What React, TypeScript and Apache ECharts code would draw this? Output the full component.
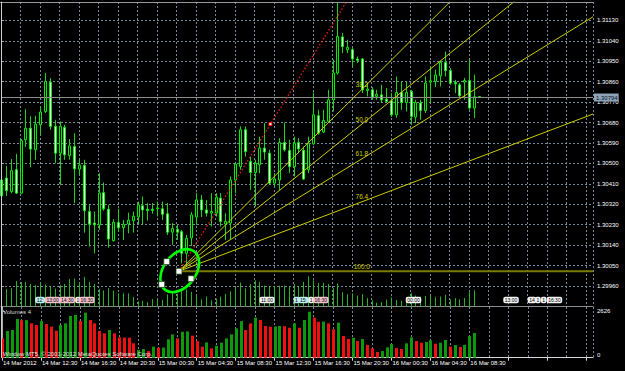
import React, { useEffect, useRef } from "react";
import * as echarts from "echarts";

// ---- data (EURUSD-like M30 chart) ----
const timeAxisLabels = [
  "14 Mar 2012", "14 Mar 12:30", "14 Mar 16:30", "14 Mar 20:30", "15 Mar 00:30",
  "15 Mar 04:30", "15 Mar 08:30", "15 Mar 12:30", "15 Mar 16:30", "15 Mar 20:30",
  "16 Mar 00:30", "16 Mar 04:30", "16 Mar 08:30",
];

const opens = [
  1.30357, 1.30435, 1.30376, 1.30472, 1.30369, 1.30604, 1.30655, 1.30560, 1.30670, 1.30729,
  1.30858, 1.30663, 1.30545, 1.30658, 1.30535, 1.30574, 1.30475, 1.30491, 1.30288, 1.30237,
  1.30229, 1.30371, 1.30298, 1.30160, 1.30239, 1.30217, 1.30233, 1.30247, 1.30264, 1.30313,
  1.30298, 1.30298, 1.30300, 1.30300, 1.30278, 1.30197, 1.30210, 1.30199, 1.30104, 1.30172,
  1.30264, 1.30339, 1.30295, 1.30281, 1.30281, 1.30347, 1.30233, 1.30237, 1.30427, 1.30486,
  1.30648, 1.30508, 1.30460, 1.30494, 1.30567, 1.30545, 1.30413, 1.30427, 1.30592, 1.30557,
  1.30486, 1.30592, 1.30557, 1.30472, 1.30586, 1.30710, 1.30638, 1.30685, 1.30780, 1.30898,
  1.31057, 1.31001, 1.31001, 1.30960, 1.30960, 1.30821, 1.30824, 1.30795, 1.30802, 1.30783,
  1.30776, 1.30714, 1.30812, 1.30768, 1.30817, 1.30704, 1.30766, 1.30733, 1.30858, 1.30861,
  1.30886, 1.30945, 1.30909, 1.30857, 1.30846, 1.30858, 1.30865, 1.30744, 1.30794,
];
const highs = [
  1.30449, 1.30489, 1.30519, 1.30542, 1.30607, 1.30739, 1.30707, 1.30710, 1.30751, 1.30898,
  1.30876, 1.30692, 1.30685, 1.30670, 1.30607, 1.30633, 1.30516, 1.30516, 1.30317, 1.30288,
  1.30457, 1.30416, 1.30317, 1.30254, 1.30300, 1.30251, 1.30283, 1.30288, 1.30332, 1.30354,
  1.30325, 1.30325, 1.30332, 1.30332, 1.30325, 1.30237, 1.30228, 1.30207, 1.30185, 1.30286,
  1.30370, 1.30361, 1.30339, 1.30369, 1.30369, 1.30369, 1.30281, 1.30442, 1.30501, 1.30663,
  1.30663, 1.30530, 1.30516, 1.30618, 1.30678, 1.30560, 1.30457, 1.30611, 1.30680, 1.30604,
  1.30618, 1.30611, 1.30574, 1.30618, 1.30812, 1.30736, 1.30736, 1.30824, 1.30957, 1.31207,
  1.31074, 1.31045, 1.31008, 1.30971, 1.30964, 1.30854, 1.30836, 1.30824, 1.30846, 1.30832,
  1.30810, 1.30883, 1.30861, 1.30861, 1.30824, 1.30780, 1.30780, 1.30883, 1.30927, 1.30913,
  1.30952, 1.30993, 1.30920, 1.30868, 1.30854, 1.30876, 1.30957, 1.30891, 1.30796,
];
const lows = [
  1.30339, 1.30357, 1.30369, 1.30366, 1.30366, 1.30573, 1.30483, 1.30516, 1.30626, 1.30722,
  1.30648, 1.30501, 1.30405, 1.30516, 1.30516, 1.30325, 1.30449, 1.30195, 1.30133, 1.30104,
  1.30207, 1.30292, 1.30129, 1.30155, 1.30199, 1.30163, 1.30192, 1.30195, 1.30233, 1.30229,
  1.30248, 1.30278, 1.30266, 1.30251, 1.30185, 1.30141, 1.30163, 1.30060, 1.30045, 1.30136,
  1.30229, 1.30264, 1.30266, 1.30222, 1.30266, 1.30222, 1.30163, 1.30163, 1.30369, 1.30472,
  1.30530, 1.30383, 1.30310, 1.30457, 1.30516, 1.30405, 1.30398, 1.30383, 1.30552, 1.30457,
  1.30442, 1.30545, 1.30427, 1.30457, 1.30582, 1.30626, 1.30633, 1.30680, 1.30729, 1.30891,
  1.30986, 1.30986, 1.30927, 1.30942, 1.30810, 1.30795, 1.30780, 1.30780, 1.30766, 1.30766,
  1.30705, 1.30701, 1.30736, 1.30729, 1.30670, 1.30678, 1.30692, 1.30722, 1.30766, 1.30836,
  1.30839, 1.30883, 1.30846, 1.30810, 1.30788, 1.30780, 1.30736, 1.30700, 1.30790,
];
const closes = [
  1.30427, 1.30380, 1.30468, 1.30369, 1.30601, 1.30655, 1.30563, 1.30673, 1.30726, 1.30861,
  1.30663, 1.30545, 1.30663, 1.30538, 1.30577, 1.30476, 1.30492, 1.30292, 1.30232, 1.30230,
  1.30369, 1.30300, 1.30167, 1.30241, 1.30217, 1.30232, 1.30250, 1.30267, 1.30317, 1.30295,
  1.30292, 1.30293, 1.30304, 1.30276, 1.30197, 1.30213, 1.30197, 1.30104, 1.30170, 1.30273,
  1.30339, 1.30295, 1.30281, 1.30288, 1.30351, 1.30244, 1.30244, 1.30427, 1.30497, 1.30648,
  1.30552, 1.30460, 1.30501, 1.30567, 1.30550, 1.30413, 1.30431, 1.30592, 1.30560, 1.30486,
  1.30589, 1.30564, 1.30431, 1.30589, 1.30714, 1.30633, 1.30689, 1.30780, 1.30898, 1.31059,
  1.31015, 1.31011, 1.30960, 1.30954, 1.30824, 1.30827, 1.30792, 1.30805, 1.30780, 1.30773,
  1.30714, 1.30812, 1.30768, 1.30812, 1.30707, 1.30768, 1.30733, 1.30854, 1.30864, 1.30889,
  1.30945, 1.30909, 1.30854, 1.30851, 1.30798, 1.30865, 1.30744, 1.30794, 1.30794,
];
const volumes = [
  1100, 1520, 1580, 2210, 2140, 2150, 1960, 1865, 2090, 1920,
  1770, 1540, 1865, 1960, 2380, 2440, 2090, 2570, 2150, 1960,
  1520, 1390, 1580, 1390, 1160, 1150, 1140, 820, 440, 495,
  380, 630, 570, 580, 1050, 1330, 1100, 1480, 1500, 1260,
  950, 630, 875, 530, 685, 855, 1100, 1330, 1675, 2090,
  1580, 1960, 2285, 2150, 1810, 1770, 1780, 1810, 1800, 1710,
  1960, 1710, 2150, 2626, 2285, 2055, 2060, 1960, 1620, 2000,
  1240, 1065, 1140, 950, 1065, 725, 535, 325, 380, 590,
  780, 550, 495, 820, 1160, 950, 855, 895, 990, 800,
  855, 1010, 630, 725, 610, 730, 1240, 1410, 4,
];
// 1 = green (volume rising), 0 = red, as coloured in the Volumes window
const volumeRising = [
  0, 1, 1, 1, 0, 1, 0, 0, 1, 0,
  0, 0, 1, 1, 1, 1, 0, 1, 0, 0,
  0, 0, 1, 0, 0, 0, 0, 0, 1, 1,
  0, 1, 0, 1, 1, 1, 0, 1, 1, 0,
  0, 0, 1, 0, 1, 1, 1, 1, 1, 1,
  0, 0, 1, 0, 0, 0, 1, 1, 0, 0,
  1, 0, 1, 1, 0, 0, 1, 0, 0, 1,
  0, 0, 1, 0, 1, 0, 0, 0, 1, 1,
  1, 0, 0, 1, 1, 0, 0, 1, 1, 0,
  1, 1, 0, 1, 0, 1, 1, 1, 0,
];

const bidPrice = 1.30794;

// Fibonacci fan: [bar index, price]
const fanStart = [36.5, 1.30025];
const fanEnd = [74, 1.31321];
const fanLevels = [0.382, 0.5, 0.618, 0.764, 1.0];
const fanLevelTexts = ["38.2", "50.0", "61.8", "76.4", "100.0"];

// Ellipse object: major-axis end points [bar, price] and axis ratio
const ellipseEnds = [[33.68, 1.29943], [39.63, 1.30112]];
const ellipseRatio = 0.67;
const ellipseHandles = [[33.99, 1.30067], [38.97, 1.29992], [32.96, 1.29967]];

// vertical-line event labels along the bottom of the price window
const eventBars = [7, 9, 12, 15.2, 16, 53, 60, 61, 63, 64, 83, 103, 108, 109.5, 110.7, 111.9];
const eventTexts = ["12:", "13:00", "14:30", "1", "16:30", "11:00", "1", "15:", "1", "16:30", "00:00", "13:00", "14", "1", "1", "16:30"];
const eventKinds = ["c", "p", "p", "w", "p", "w", "c", "c", "w", "p", "w", "w", "w", "w", "w", "w"];

const FONT = "'Liberation Sans', Arial, sans-serif";
const GRID_COLOR = "#778899";
const X_MAX = 121.4;

export default function App() {
  const ref = useRef<HTMLDivElement>(null);

  useEffect(() => {
    const chart = echarts.init(ref.current!, null, { renderer: "svg" });
    const candleData = opens.map((o, i) => [i, o, closes[i], lows[i], highs[i]]);
    const volData = volumes.map((v, i) => [i, v, volumeRising[i]]);
    const maxVol = Math.max(...volumes);

    const gridLine = { show: true, lineStyle: { color: GRID_COLOR, type: [2, 2], width: 1 } };
    const kindColor: Record<string, string> = { c: "#bdeff2", p: "#f5c3cd", w: "#f2f2f2" };

    const option: any = {
      animation: false,
      backgroundColor: "#000000",
      textStyle: { fontFamily: FONT },
      grid: [
        { left: 1, top: 2, width: 592, height: 304.4 },
        { left: 1, top: 307, width: 592, height: 50.7 },
      ],
      xAxis: [
        {
          gridIndex: 0, type: "value", min: 0, max: X_MAX, interval: 4,
          axisLabel: { show: false }, axisTick: { show: false },
          axisLine: { show: true, onZero: false, lineStyle: { color: "#8c8c8c" } },
          splitLine: gridLine,
        },
        {
          gridIndex: 1, type: "value", position: "top", min: 0, max: X_MAX, interval: 4,
          axisLabel: { show: false }, axisTick: { show: false }, axisLine: { show: false },
          splitLine: gridLine,
        },
        {
          gridIndex: 1, type: "value", position: "bottom", min: 0, max: X_MAX, interval: 8,
          axisLine: { show: true, onZero: false, lineStyle: { color: "#d8d8d8" } },
          axisTick: { show: true, length: 3, lineStyle: { color: "#d8d8d8" } },
          splitLine: { show: false },
          axisLabel: {
            show: true, color: "#ffffff", fontSize: 6, fontFamily: FONT, align: "left",
            margin: 2, padding: [0, 0, 0, 1], showMinLabel: true, showMaxLabel: false,
            formatter: (v: number) => {
              const k = Math.round(v / 8);
              return Math.abs(v - k * 8) < 1e-6 && k < timeAxisLabels.length ? timeAxisLabels[k] : "";
            },
          },
        },
      ],
      yAxis: [
        {
          gridIndex: 0, type: "value", position: "right", min: 1.2987, max: 1.31211, interval: 0.0009,
          axisLine: { show: true, lineStyle: { color: "#a8a8a8" } },
          axisTick: { show: true, length: 3, lineStyle: { color: "#a8a8a8" } },
          axisLabel: {
            color: "#ffffff", fontSize: 6, fontFamily: FONT, margin: 4,
            showMinLabel: false, showMaxLabel: false,
            formatter: (v: number) => v.toFixed(5),
          },
          splitLine: gridLine,
        },
        { gridIndex: 0, type: "value", min: 0, max: 26650, show: false },
        {
          gridIndex: 1, type: "value", position: "right", min: 0, max: 2894, interval: maxVol,
          axisLine: { show: true, lineStyle: { color: "#a8a8a8" } },
          axisTick: { show: true, length: 3, lineStyle: { color: "#a8a8a8" } },
          splitLine: { show: false },
          axisLabel: {
            color: "#ffffff", fontSize: 6, fontFamily: FONT, margin: 4,
            showMinLabel: true, showMaxLabel: false,
            formatter: (v: number) => (v === 0 ? "{lo|0}" : "{hi|" + v + "}"),
            rich: {
              lo: { color: "#ffffff", fontSize: 6, fontFamily: FONT, padding: [0, 0, 6, 0] },
              hi: { color: "#ffffff", fontSize: 6, fontFamily: FONT, padding: [0, 0, 2, 0] },
            },
          },
        },
      ],
      series: [
        {
          type: "custom", name: "tick volumes", xAxisIndex: 0, yAxisIndex: 1, z: 1, clip: false,
          data: volData,
          renderItem: (params: any, api: any) => {
            const i = api.value(0);
            const top = api.coord([i, api.value(1)]);
            const base = api.coord([i, 0]);
            const x = Math.round(top[0]) + 0.5;
            return {
              type: "line",
              shape: { x1: x, y1: top[1], x2: x, y2: base[1] },
              style: { stroke: "#27b327", lineWidth: 1 },
            };
          },
        },
        {
          type: "custom", name: "candles", xAxisIndex: 0, yAxisIndex: 0, z: 2, clip: false,
          data: candleData,
          renderItem: (params: any, api: any) => {
            const i = api.value(0);
            const o = api.value(1), c = api.value(2), l = api.value(3), h = api.value(4);
            const pO = api.coord([i, o]), pC = api.coord([i, c]);
            const pL = api.coord([i, l]), pH = api.coord([i, h]);
            const xc = Math.round(pO[0]);
            const top = Math.min(pO[1], pC[1]);
            const bot = Math.max(pO[1], pC[1]);
            const bull = c > o;
            return {
              type: "group",
              children: [
                {
                  type: "line",
                  shape: { x1: xc + 0.5, y1: pH[1], x2: xc + 0.5, y2: pL[1] },
                  style: { stroke: "#1ed21e", lineWidth: 1 },
                },
                {
                  type: "rect",
                  shape: { x: xc - 0.5, y: top, width: 2, height: Math.max(bot - top, 0.3) },
                  style: { fill: bull ? "#000000" : "#ffffff", stroke: "#00f000", lineWidth: 1 },
                },
              ],
            };
          },
        },
        {
          type: "custom", name: "Volumes", xAxisIndex: 2, yAxisIndex: 2, z: 2, clip: false,
          data: volData,
          renderItem: (params: any, api: any) => {
            const i = api.value(0);
            const top = api.coord([i, api.value(1)]);
            const base = api.coord([i, 0]);
            const xc = Math.round(top[0]);
            return {
              type: "rect",
              shape: { x: xc - 1, y: top[1], width: 3, height: base[1] - top[1] },
              style: { fill: api.value(2) ? "#0c9a0c" : "#f01010" },
            };
          },
        },
        {
          type: "custom", name: "objects", xAxisIndex: 0, yAxisIndex: 0, z: 3, clip: false,
          data: [[0, bidPrice]],
          renderItem: (params: any, api: any) => {
            const cs = params.coordSys;
            const left = cs.x, top = cs.y, right = cs.x + cs.width, bottom = cs.y + cs.height;
            const children: any[] = [];
            const ray = (x0: number, y0: number, x1: number, y1: number) => {
              const dx = x1 - x0, dy = y1 - y0;
              let t = (right - x0) / dx;
              if (dy < 0) t = Math.min(t, (top - y0) / dy);
              return [x0 + dx * t, y0 + dy * t];
            };

            // bid line
            const by = Math.round(api.coord([0, bidPrice])[1]) + 0.5;
            children.push({
              type: "line", shape: { x1: left, y1: by, x2: right, y2: by },
              style: { stroke: "#8b8b8b", lineWidth: 1 },
            });

            // fibo fan
            const O = api.coord(fanStart);
            const P = api.coord(fanEnd);
            fanLevels.forEach((L, k) => {
              const lp = api.coord([fanEnd[0], fanEnd[1] - L * (fanEnd[1] - fanStart[1])]);
              const end = ray(O[0], O[1], lp[0], lp[1]);
              const base = L === 1;
              children.push({
                type: "line",
                shape: { x1: O[0], y1: O[1], x2: end[0], y2: end[1] },
                style: { stroke: base ? "#7a7a00" : "#cccc00", lineWidth: base ? 2 : 1 },
              });
              children.push({
                type: "text", x: lp[0], y: lp[1] - 1.5,
                style: {
                  text: fanLevelTexts[k], fill: "#d0d000", font: "6.5px " + FONT,
                  align: "center", verticalAlign: "bottom",
                },
              });
            });
            const redEnd = ray(O[0], O[1], P[0], P[1]);
            children.push({
              type: "line", shape: { x1: O[0], y1: O[1], x2: redEnd[0], y2: redEnd[1] },
              style: { stroke: "#ff1a1a", lineWidth: 1.2, lineDash: [1.5, 2] },
            });
            const M = api.coord([(fanStart[0] + fanEnd[0]) / 2, (fanStart[1] + fanEnd[1]) / 2]);
            children.push({
              type: "rect", shape: { x: M[0] - 1.5, y: M[1] - 1.5, width: 3, height: 3 },
              style: { fill: "#ffffff", stroke: "#ff0000", lineWidth: 1 },
            });

            // ellipse
            const E1 = api.coord(ellipseEnds[0]);
            const E2 = api.coord(ellipseEnds[1]);
            const ecx = (E1[0] + E2[0]) / 2, ecy = (E1[1] + E2[1]) / 2;
            const a = Math.hypot(E2[0] - E1[0], E2[1] - E1[1]) / 2;
            const ang = Math.atan2(-(E2[1] - E1[1]), E2[0] - E1[0]);
            children.push({
              type: "ellipse", x: ecx, y: ecy, rotation: ang,
              shape: { cx: 0, cy: 0, rx: a, ry: a * ellipseRatio },
              style: { fill: "transparent", stroke: "#00ff00", lineWidth: 2.6 },
            });
            [...ellipseHandles, fanStart].forEach((hp) => {
              const q = api.coord(hp);
              children.push({
                type: "rect", shape: { x: q[0] - 3, y: q[1] - 3, width: 6, height: 6 },
                style: { fill: "#ffffff", stroke: "#0a3a0a", lineWidth: 0.8 },
              });
            });

            // event labels
            eventBars.forEach((b, k) => {
              const ex = api.coord([b, bidPrice])[0];
              children.push({
                type: "text", x: ex, y: bottom - 6.5,
                style: {
                  text: eventTexts[k], fill: "#000000", font: "5px " + FONT,
                  align: "left", verticalAlign: "middle",
                  backgroundColor: kindColor[eventKinds[k]], padding: [1, 1.5, 0.5, 1.5], borderRadius: 2,
                },
              });
            });

            // bid price label on the axis
            children.push({
              type: "text", x: right + 1, y: by,
              style: {
                text: bidPrice.toFixed(5), fill: "#0b1826", font: "6px " + FONT,
                align: "left", verticalAlign: "middle",
                backgroundColor: "#8fa3b8", padding: [1, 1, 1, 2],
              },
            });
            return { type: "group", children };
          },
        },
      ],
      graphic: [
        { type: "line", z: 50, shape: { x1: 0, y1: 2.5, x2: 593, y2: 2.5 }, style: { stroke: "#9a9a9a", lineWidth: 1 } },
        { type: "line", z: 50, shape: { x1: 1.5, y1: 2, x2: 1.5, y2: 358 }, style: { stroke: "#cfcfcf", lineWidth: 1 } },
        {
          type: "text", z: 50, left: 3, top: 309,
          style: { text: "Volumes " + volumes[volumes.length - 1], fill: "#d8d8d8", font: "6px " + FONT },
        },
        {
          type: "text", z: 50, left: 3, top: 350.5,
          style: { text: "Window MT5, \u00a9 2001-2012 MetaQuotes Software Corp.", fill: "#e0e0e0", font: "6px " + FONT },
        },
      ],
    };

    chart.setOption(option);
    return () => chart.dispose();
  }, []);

  return (
    <div
      ref={ref}
      style={{ position: "absolute", left: 0, top: 0, width: 625, height: 371, background: "#000" }}
    />
  );
}
